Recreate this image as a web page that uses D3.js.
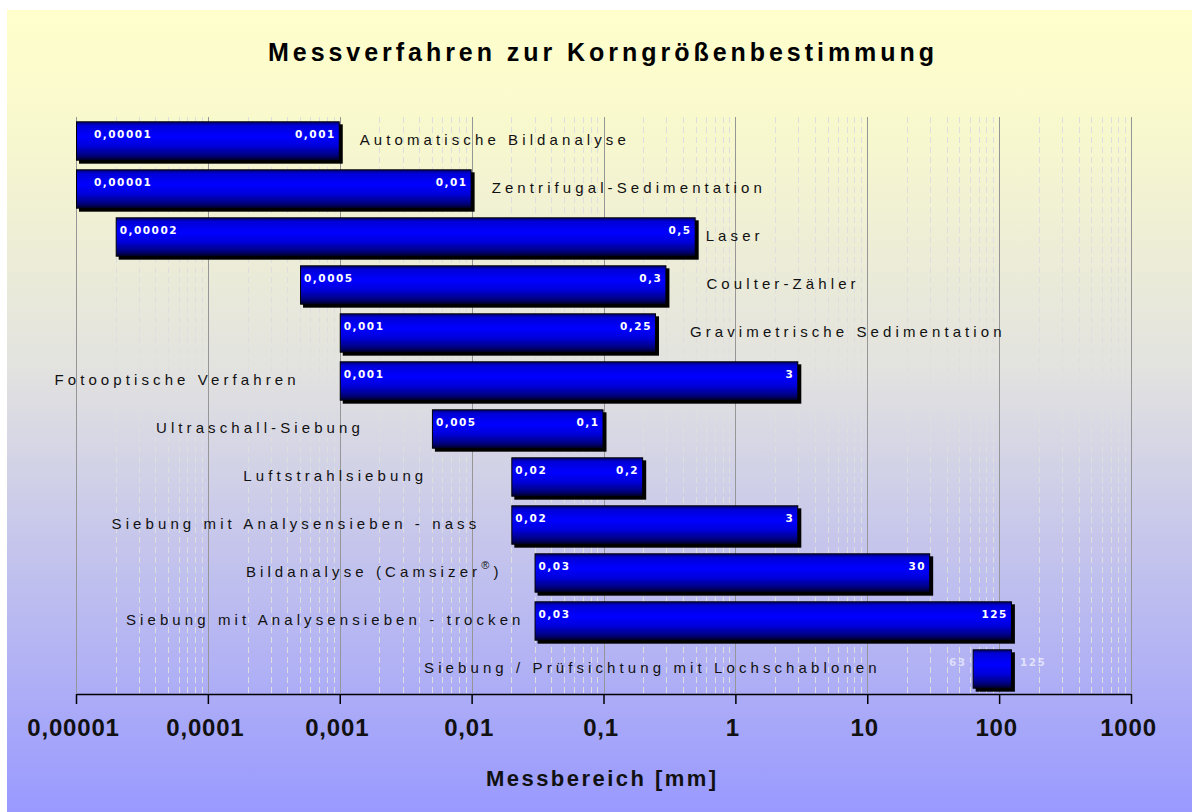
<!DOCTYPE html>
<html>
<head>
<meta charset="utf-8">
<script src="https://cdn.jsdelivr.net/npm/d3@7"></script>
<style>
  body { margin: 0; background: #fff; }
</style>
</head>
<body>
<div id="chart"></div>
<script>
// data
var methods = [
  "Automatische Bildanalyse",
  "Zentrifugal-Sedimentation",
  "Laser",
  "Coulter-Zähler",
  "Gravimetrische Sedimentation",
  "Fotooptische Verfahren",
  "Ultraschall-Siebung",
  "Luftstrahlsiebung",
  "Siebung mit Analysensieben - nass",
  "Bildanalyse (Camsizer®)",
  "Siebung mit Analysensieben - trocken",
  "Siebung / Prüfsichtung mit Lochschablonen"
];
var rangeMin = [0.00001, 0.00001, 0.00002, 0.0005, 0.001, 0.001, 0.005, 0.02, 0.02, 0.03, 0.03, 63];
var rangeMax = [0.001, 0.01, 0.5, 0.3, 0.25, 3, 0.1, 0.2, 3, 30, 125, 125];
var tickValues = [0.00001, 0.0001, 0.001, 0.01, 0.1, 1, 10, 100, 1000];
var tickLabels = ["0,00001", "0,0001", "0,001", "0,01", "0,1", "1", "10", "100", "1000"];

// where the method name sits: right of the bar or left of it, and the gap in px
var labelSide = ["r", "r", "r", "r", "r", "l", "l", "l", "l", "l", "l", "l"];
var labelGap = [20, 20, 10, 40, 34, 40, 68, 84, 31, 32, 10, 92];

var W = 1192, H = 812;
var margin = {top: 117, right: 61, bottom: 119, left: 76};
var width = W - margin.left - margin.right,
    height = H - margin.top - margin.bottom;

var svg = d3.select("#chart")
  .append("svg")
    .attr("width", W)
    .attr("height", H);

var defs = svg.append("defs");

var bg = defs.append("linearGradient")
  .attr("id", "bg").attr("x1", 0).attr("y1", 0).attr("x2", 0).attr("y2", 1);
bg.append("stop").attr("offset", "0%").attr("stop-color", "#ffffcc");
bg.append("stop").attr("offset", "15%").attr("stop-color", "#f8f8ce");
bg.append("stop").attr("offset", "45%").attr("stop-color", "#e2e2e0");
bg.append("stop").attr("offset", "100%").attr("stop-color", "#9999ff");

var barGrad = defs.append("linearGradient")
  .attr("id", "bar").attr("x1", 0).attr("y1", 0).attr("x2", 0).attr("y2", 1);
barGrad.append("stop").attr("offset", "0%").attr("stop-color", "#000070");
barGrad.append("stop").attr("offset", "10%").attr("stop-color", "#0000d8");
barGrad.append("stop").attr("offset", "38%").attr("stop-color", "#0000ff");
barGrad.append("stop").attr("offset", "62%").attr("stop-color", "#0000dd");
barGrad.append("stop").attr("offset", "85%").attr("stop-color", "#000088");
barGrad.append("stop").attr("offset", "100%").attr("stop-color", "#000030");

// background frame
svg.append("rect")
  .attr("x", 7).attr("y", 10)
  .attr("width", W - 7).attr("height", H - 10)
  .attr("fill", "url(#bg)");

var g = svg.append("g")
  .attr("transform", "translate(" + margin.left + "," + margin.top + ")");

var x = d3.scaleLog()
  .domain([0.00001, 1000])
  .range([0, width]);

var y = d3.scaleBand()
  .domain(d3.range(methods.length))
  .range([0, height])
  .paddingInner(0.18)
  .paddingOuter(0.09);

// minor gridlines (2..9 in each decade)
var minor = [];
for (var e = -5; e < 3; e++) {
  for (var m = 2; m <= 9; m++) minor.push(m * Math.pow(10, e));
}
g.append("g")
  .selectAll("line")
  .data(minor)
  .enter().append("line")
    .attr("x1", function(d) { return Math.round(x(d)) + 0.5; })
    .attr("x2", function(d) { return Math.round(x(d)) + 0.5; })
    .attr("y1", 0)
    .attr("y2", height)
    .attr("stroke", "#dedede")
    .attr("stroke-dasharray", "6,4");

// major gridlines
g.append("g")
  .selectAll("line")
  .data(tickValues)
  .enter().append("line")
    .attr("x1", function(d) { return Math.round(x(d)) + 0.5; })
    .attr("x2", function(d) { return Math.round(x(d)) + 0.5; })
    .attr("y1", 0)
    .attr("y2", height)
    .attr("stroke", "#969696");

var rows = methods.map(function(name, i) {
  return {i: i, name: name, lo: rangeMin[i], hi: rangeMax[i]};
});

function de(v) { return String(v).replace(".", ","); }

var bh = y.bandwidth();

var row = g.append("g")
  .selectAll("g")
  .data(rows)
  .enter().append("g")
    .attr("transform", function(d) { return "translate(0," + y(d.i) + ")"; });

// shadow
row.append("rect")
  .attr("x", function(d) { return x(d.lo) + 3; })
  .attr("y", 3)
  .attr("width", function(d) { return x(d.hi) - x(d.lo); })
  .attr("height", bh)
  .attr("fill", "#000");

// bar
row.append("rect")
  .attr("x", function(d) { return x(d.lo) + 0.5; })
  .attr("y", 0.5)
  .attr("width", function(d) { return x(d.hi) - x(d.lo) - 1; })
  .attr("height", bh - 1)
  .attr("fill", "url(#bar)")
  .attr("stroke", "#000")
  .attr("stroke-width", 1);

// value labels
var vfont = "'DejaVu Sans', Verdana, sans-serif";
row.each(function(d) {
  var sel = d3.select(this);
  var narrow = (x(d.hi) - x(d.lo)) < 80;
  var ly = bh / 2 - 6;
  sel.append("text")
    .attr("x", narrow ? x(d.lo) - 6 : x(d.lo) + (x(d.lo) < 1 ? 18 : 4))
    .attr("y", ly)
    .attr("text-anchor", narrow ? "end" : "start")
    .attr("dominant-baseline", "middle")
    .attr("font-family", vfont)
    .attr("font-weight", "bold")
    .attr("font-size", 10.5)
    .attr("letter-spacing", 1.5)
    .attr("fill", narrow ? "#eeeeff" : "#fff")
    .attr("opacity", narrow ? 0.75 : 1)
    .text(de(d.lo));
  sel.append("text")
    .attr("x", narrow ? x(d.hi) + 8 : x(d.hi) - 4)
    .attr("y", ly)
    .attr("text-anchor", narrow ? "start" : "end")
    .attr("dominant-baseline", "middle")
    .attr("font-family", vfont)
    .attr("font-weight", "bold")
    .attr("font-size", 10.5)
    .attr("letter-spacing", 1.5)
    .attr("fill", narrow ? "#eeeeff" : "#fff")
    .attr("opacity", narrow ? 0.8 : 1)
    .text(de(d.hi));
});

// method names
row.each(function(d) {
  var right = labelSide[d.i] === "r";
  var t = d3.select(this).append("text")
    .attr("x", right ? x(d.hi) + labelGap[d.i] : x(d.lo) - labelGap[d.i])
    .attr("y", bh / 2)
    .attr("text-anchor", right ? "start" : "end")
    .attr("dominant-baseline", "middle")
    .attr("font-family", "'Liberation Sans', Arial, sans-serif")
    .attr("font-size", 15)
    .attr("letter-spacing", 4.1)
    .attr("fill", "#111");
  var parts = d.name.split("®");
  t.append("tspan").text(parts[0]);
  if (parts.length > 1) {
    t.append("tspan").attr("dy", -7).attr("font-size", 11).text("®");
    t.append("tspan").attr("dy", 7).text(parts[1]);
  }
});

// x axis
var axis = g.append("g")
  .attr("transform", "translate(0," + (height + 1) + ")")
  .call(d3.axisBottom(x)
    .tickValues(tickValues)
    .tickFormat(function(d, i) { return tickLabels[i]; })
    .tickSize(10)
    .tickSizeOuter(0)
    .tickPadding(15));
axis.select(".domain").attr("stroke", "#000").attr("stroke-width", 1.5);
axis.selectAll(".tick line").attr("stroke", "#000").attr("stroke-width", 1.5);
axis.selectAll(".tick text")
  .attr("dx", -3)
  .attr("font-family", "'Liberation Sans Narrow', 'Liberation Sans', Arial, sans-serif")
  .attr("font-weight", "bold")
  .attr("font-size", 24)
  .attr("letter-spacing", 0.8)
  .attr("fill", "#111");

// title
svg.append("text")
  .attr("x", 601)
  .attr("y", 61)
  .attr("text-anchor", "middle")
  .attr("font-family", "'Liberation Sans Narrow', 'Liberation Sans', Arial, sans-serif")
  .attr("font-weight", "bold")
  .attr("font-size", 25)
  .attr("textLength", 666)
  .attr("lengthAdjust", "spacing")
  .attr("fill", "#000")
  .text("Messverfahren zur Korngrößenbestimmung");

// axis title
svg.append("text")
  .attr("x", 601)
  .attr("y", 786)
  .attr("text-anchor", "middle")
  .attr("font-family", "'Liberation Sans Narrow', 'Liberation Sans', Arial, sans-serif")
  .attr("font-weight", "bold")
  .attr("font-size", 22)
  .attr("textLength", 230)
  .attr("lengthAdjust", "spacing")
  .attr("fill", "#111")
  .text("Messbereich [mm]");
</script>
</body>
</html>
